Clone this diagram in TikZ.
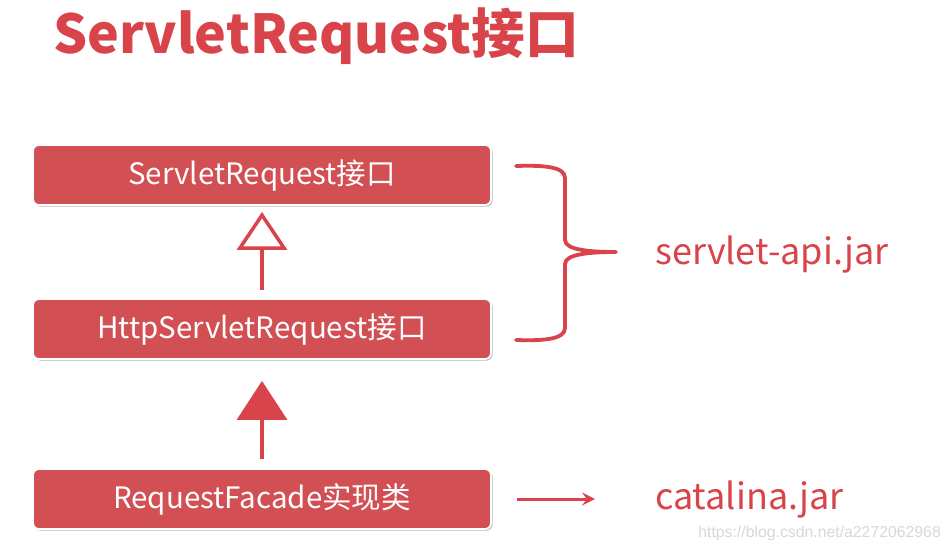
\documentclass[tikz,border=0pt]{standalone}
\usepackage{fontspec}
\setmainfont{Noto Sans CJK SC}
\newfontfamily\wmfont{Liberation Sans}
\usetikzlibrary{arrows.meta,shadows}
\definecolor{boxred}{HTML}{D24F53}
\definecolor{txtred}{HTML}{D8444A}
\definecolor{wmgray}{HTML}{D8D8D8}
\tikzset{
  x=1pt,y=-1pt,
  classbox/.style={rounded corners=6pt, fill=boxred, draw=white, line width=1.8pt,
    minimum width=458pt, minimum height=60pt, inner sep=0pt,
    text=white, font=\fontsize{29.5}{34}\selectfont,
    drop shadow={shadow xshift=1.5pt, shadow yshift=-1.5pt, fill=black!45, opacity=0.6}},
  jarlabel/.style={text=txtred, font=\fontsize{36}{42}\selectfont, anchor=west, inner sep=0pt},
  inherit/.style={draw=txtred, line width=3.5pt,
    -{Triangle[open, length=38pt, width=50pt, line width=3.5pt]}},
  realize/.style={draw=txtred, fill=txtred, line width=3.5pt,
    -{Triangle[length=39pt, width=50pt]}},
}
\begin{document}
\begin{tikzpicture}
\useasboundingbox (0,0) rectangle (949,552);
\fill[white] (0,0) rectangle (949,552);
\node[text=txtred, font=\bfseries\fontsize{53.6}{60}\selectfont, anchor=west, inner sep=0pt] (title) at (53,36) {ServletRequest接口};
\node[classbox] (b1) at (262,175) {ServletRequest接口};
\node[classbox] (b2) at (262,329) {HttpServletRequest接口};
\node[classbox] (b3) at (262,499) {RequestFacade实现类};
\draw[inherit, shorten <=8pt, shorten >=6pt] (b2.north) -- (b1.south);
\draw[realize, shorten <=9pt, shorten >=21pt] (b3.north) -- (b2.south);
\coordinate (bt) at (516,166);
\coordinate (bb) at (516,340);
\coordinate (btip) at (616,252);
\draw[txtred, line width=3.8pt, line cap=round, line join=round]
  (bt) .. controls (545,165) and (565,167) .. (565,178)
  -- (565,240) .. controls (565,250) and (590,252) .. (btip)
  .. controls (590,252) and (565,254) .. (565,264)
  -- (565,328) .. controls (565,339) and (545,341) .. (bb);
\node[jarlabel] (api) at (655,255) {servlet-api.jar};
\node[jarlabel] (cat) at (655,500) {catalina.jar};
\coordinate (arrs) at (517,499);
\draw[txtred, line width=3pt, -{Stealth[length=13pt, width=13pt, inset=5pt]}] (arrs) -- (595,499);
\node[text=wmgray, font=\wmfont\fontsize{15.8}{18}\selectfont, anchor=east, inner sep=0pt] (wm) at (941,533) {https://blog.csdn.net/a2272062968};
\end{tikzpicture}
\end{document}
